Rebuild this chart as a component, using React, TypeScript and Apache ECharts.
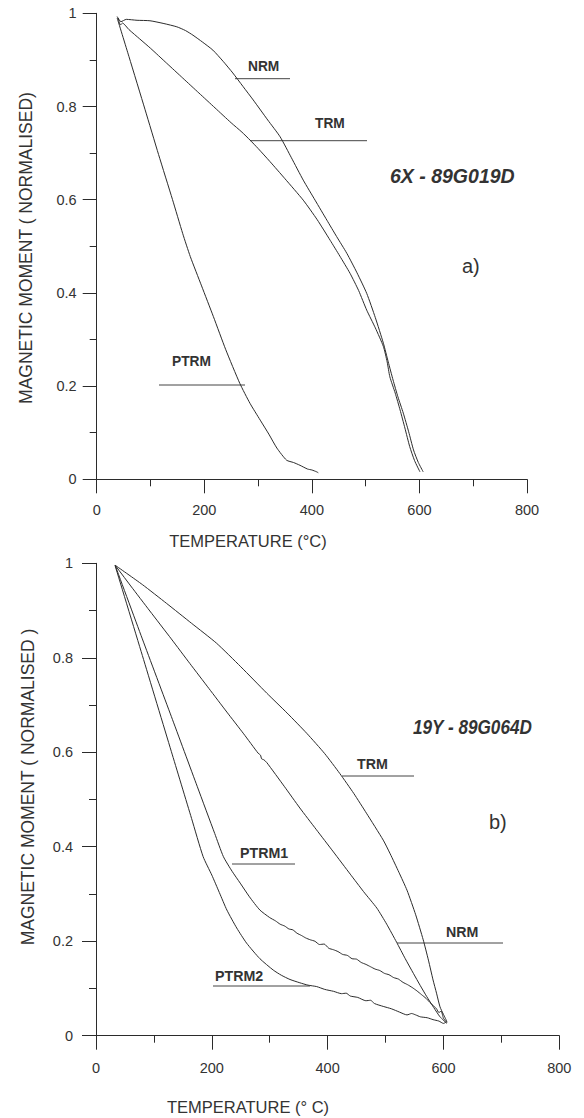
import React, { useEffect, useRef } from "react";
import * as echarts from "echarts";

// ---------- Data (temperature °C, normalised moment) ----------
// Panel a) 6X - 89G019D
const aNRM: number[][] = [
  [38, 0.993], [45, 0.982], [55, 0.987], [75, 0.985], [99, 0.984], [125, 0.978], [149, 0.971],
  [165, 0.963], [179, 0.953], [197, 0.938], [216, 0.921], [235, 0.897], [253, 0.872], [272, 0.843],
  [291, 0.814], [318, 0.771], [341, 0.735], [362, 0.69], [384, 0.642], [406, 0.599], [428, 0.556],
  [446, 0.521], [465, 0.485], [484, 0.443], [502, 0.399], [518, 0.347], [533, 0.292], [542, 0.252],
  [551, 0.213], [560, 0.177], [570, 0.142], [580, 0.102], [589, 0.063], [598, 0.036], [607, 0.016],
];
const aTRM: number[][] = [
  [40, 0.99], [44, 0.975], [48, 0.979], [60, 0.965], [80, 0.945], [100, 0.925], [130, 0.893],
  [160, 0.861], [190, 0.829], [220, 0.797], [250, 0.765], [270, 0.745], [285, 0.728], [300, 0.71],
  [322, 0.682], [350, 0.645], [384, 0.599], [410, 0.557], [434, 0.513], [452, 0.479], [471, 0.442],
  [487, 0.405], [502, 0.363], [518, 0.325], [533, 0.285], [540, 0.252], [545, 0.22], [555, 0.185],
  [564, 0.149], [573, 0.11], [582, 0.07], [591, 0.04], [601, 0.016],
];
const aPTRM: number[][] = [
  [38, 0.99], [60, 0.907], [90, 0.793], [115, 0.697], [141, 0.6], [160, 0.527], [174, 0.478],
  [195, 0.415], [217, 0.349], [240, 0.278], [266, 0.206], [285, 0.163], [304, 0.127], [320, 0.097],
  [335, 0.067], [353, 0.041], [366, 0.036], [378, 0.03], [392, 0.022], [400, 0.02], [409, 0.016], [412, 0.014],
];

// Panel b) 19Y - 89G064D
const bTRM: number[][] = [
  [33, 0.996], [80, 0.955], [122, 0.915], [165, 0.873], [208, 0.831], [250, 0.781], [295, 0.725],
  [330, 0.683], [364, 0.64], [395, 0.597], [421, 0.555], [445, 0.513], [467, 0.471], [496, 0.414],
  [508, 0.385], [523, 0.346], [537, 0.308], [552, 0.256], [565, 0.203], [574, 0.16], [582, 0.118],
  [588, 0.09], [594, 0.061], [600, 0.045], [606, 0.03],
];
const bNRM: number[][] = [
  [33, 0.996], [60, 0.952], [93, 0.899], [130, 0.84], [162, 0.788], [195, 0.735], [226, 0.685],
  [255, 0.639], [280, 0.598], [284, 0.594], [286, 0.586], [290, 0.584], [295, 0.578], [325, 0.528],
  [352, 0.482], [380, 0.437], [410, 0.389], [439, 0.342], [462, 0.305], [485, 0.27], [502, 0.236],
  [519, 0.198], [534, 0.163], [548, 0.132], [560, 0.106], [571, 0.083], [583, 0.06], [594, 0.04],
  [606, 0.026],
];
const bPTRM1: number[][] = [
  [33, 0.996], [80, 0.84], [130, 0.676], [175, 0.527], [205, 0.428], [220, 0.379], [235, 0.348],
  [249, 0.323], [265, 0.294], [283, 0.266], [300, 0.25], [310, 0.243], [318, 0.236], [326, 0.232],
  [333, 0.226], [340, 0.224], [347, 0.217], [355, 0.212], [362, 0.207], [370, 0.203], [378, 0.2],
  [386, 0.193], [394, 0.194], [402, 0.185], [410, 0.182], [418, 0.178], [426, 0.172], [434, 0.17],
  [442, 0.163], [450, 0.162], [458, 0.155], [466, 0.151], [474, 0.146], [482, 0.141], [490, 0.138],
  [498, 0.132], [506, 0.129], [514, 0.123], [522, 0.12], [530, 0.113], [538, 0.108], [546, 0.102],
  [554, 0.095], [562, 0.087], [570, 0.079], [576, 0.071], [582, 0.064], [588, 0.057], [592, 0.049],
  [596, 0.052], [600, 0.037], [606, 0.028],
];
const bPTRM2: number[][] = [
  [33, 0.995], [80, 0.805], [130, 0.602], [165, 0.46], [185, 0.379], [200, 0.34], [213, 0.303],
  [226, 0.266], [243, 0.228], [260, 0.196], [283, 0.163], [306, 0.139], [320, 0.128], [335, 0.119],
  [352, 0.112], [366, 0.107], [381, 0.104], [395, 0.098], [410, 0.094], [424, 0.089], [432, 0.09],
  [439, 0.084], [452, 0.081], [466, 0.074], [474, 0.075], [481, 0.068], [496, 0.062], [510, 0.057],
  [524, 0.05], [537, 0.044], [545, 0.047], [552, 0.044], [560, 0.04], [572, 0.038], [582, 0.034],
  [592, 0.031], [600, 0.026], [606, 0.03],
];

const xTicks = [0, 200, 400, 600, 800];
const yTicks = [0, 0.2, 0.4, 0.6, 0.8, 1];

const INK = "#2b2b2b";
const FONT = "'Liberation Sans', Arial, Helvetica, sans-serif";

function xAxis(gridIndex: number, margin: number) {
  return {
    type: "value" as const,
    gridIndex,
    min: xTicks[0],
    max: xTicks[xTicks.length - 1],
    interval: 200,
    axisLine: { show: true, onZero: false, lineStyle: { color: INK, width: 1 } },
    axisTick: { show: true, inside: false, length: 14, lineStyle: { color: INK, width: 1 } },
    minorTick: { show: true, splitNumber: 2, length: 7, lineStyle: { color: INK, width: 1 } },
    splitLine: { show: false },
    axisLabel: { color: "#333", fontSize: 14.5, fontFamily: FONT, margin },
  };
}
function yAxis(gridIndex: number, margin: number) {
  return {
    type: "value" as const,
    gridIndex,
    min: yTicks[0],
    max: yTicks[yTicks.length - 1],
    interval: 0.2,
    axisLine: { show: true, onZero: false, lineStyle: { color: INK, width: 1 } },
    axisTick: { show: true, inside: false, length: 14, lineStyle: { color: INK, width: 1 } },
    minorTick: { show: true, splitNumber: 2, length: 7, lineStyle: { color: INK, width: 1 } },
    splitLine: { show: false },
    axisLabel: { color: "#333", fontSize: 14.5, fontFamily: FONT, margin },
  };
}

function line(name: string, data: number[][], idx: number) {
  return {
    name,
    type: "line" as const,
    xAxisIndex: idx,
    yAxisIndex: idx,
    data,
    showSymbol: false,
    symbol: "none",
    smooth: 0.2,
    lineStyle: { color: INK, width: 1 },
    silent: true,
  };
}

function label(text: string, x: number, y: number, size = 14.5) {
  return {
    type: "text",
    x,
    y,
    style: {
      text,
      fill: "#333",
      font: `bold ${size}px ${FONT}`,
      textAlign: "left",
      textVerticalAlign: "middle",
    },
    scaleX: 0.95,
  };
}
function leader(x1: number, x2: number, y: number) {
  return {
    type: "line",
    shape: { x1, y1: y, x2, y2: y },
    style: { stroke: "#444", lineWidth: 1 },
  };
}

export default function App() {
  const ref = useRef<HTMLDivElement>(null);
  useEffect(() => {
    if (!ref.current) return;
    const chart = echarts.init(ref.current, undefined, { renderer: "svg" });
    chart.setOption({
      animation: false,
      backgroundColor: "#ffffff",
      grid: [
        { left: 96.7, top: 13.3, width: 430.3, height: 466, containLabel: false },
        { left: 96, top: 563.3, width: 463.3, height: 472.4, containLabel: false },
      ],
      xAxis: [xAxis(0, 23), xAxis(1, 25)],
      yAxis: [yAxis(0, 20), yAxis(1, 23)],
      series: [
        line("NRM", aNRM, 0),
        line("TRM", aTRM, 0),
        line("PTRM", aPTRM, 0),
        line("TRM", bTRM, 1),
        line("NRM", bNRM, 1),
        line("PTRM1", bPTRM1, 1),
        line("PTRM2", bPTRM2, 1),
      ],
      graphic: [
        // axis titles
        {
          type: "text", x: 26, y: 248, rotation: Math.PI / 2,
          style: { text: "MAGNETIC MOMENT ( NORMALISED)", fill: "#333", font: `17.5px ${FONT}`, textAlign: "center", textVerticalAlign: "middle" },
        },
        {
          type: "text", x: 248, y: 541,
          style: { text: "TEMPERATURE (°C)", fill: "#333", font: `16.5px ${FONT}`, textAlign: "center", textVerticalAlign: "middle" },
        },
        {
          type: "text", x: 28, y: 787, rotation: Math.PI / 2,
          style: { text: "MAGNETIC MOMENT ( NORMALISED )", fill: "#333", font: `17.5px ${FONT}`, textAlign: "center", textVerticalAlign: "middle" },
        },
        {
          type: "text", x: 248, y: 1107,
          style: { text: "TEMPERATURE (° C)", fill: "#333", font: `16.5px ${FONT}`, textAlign: "center", textVerticalAlign: "middle" },
        },
        // panel a annotations
        label("NRM", 248, 66),
        leader(235, 290, 78.7),
        label("TRM", 315, 123),
        leader(250, 367, 140.7),
        label("PTRM", 172, 361),
        leader(159, 245, 385),
        {
          type: "text", x: 390, y: 176,
          style: { text: "6X - 89G019D", fill: "#333", font: `italic bold 19.5px ${FONT}`, textAlign: "left", textVerticalAlign: "middle" },
        },
        {
          type: "text", x: 462, y: 266,
          style: { text: "a)", fill: "#333", font: `20px ${FONT}`, textAlign: "left", textVerticalAlign: "middle" },
        },
        // panel b annotations
        label("TRM", 357, 764, 15),
        leader(342, 414, 776),
        label("PTRM1", 240, 853, 15),
        leader(232, 295, 864),
        label("PTRM2", 215, 976, 15),
        leader(213, 310, 986),
        label("NRM", 446, 932, 15),
        leader(397, 503, 943),
        {
          type: "text", x: 413, y: 727, scaleX: 0.88,
          style: { text: "19Y - 89G064D", fill: "#333", font: `italic bold 19.5px ${FONT}`, textAlign: "left", textVerticalAlign: "middle" },
        },
        {
          type: "text", x: 489, y: 822,
          style: { text: "b)", fill: "#333", font: `20px ${FONT}`, textAlign: "left", textVerticalAlign: "middle" },
        },
      ],
    });
    return () => chart.dispose();
  }, []);
  return (
    <div
      ref={ref}
      style={{ position: "absolute", left: 0, top: 0, width: 584, height: 1118, background: "#fff" }}
    />
  );
}
